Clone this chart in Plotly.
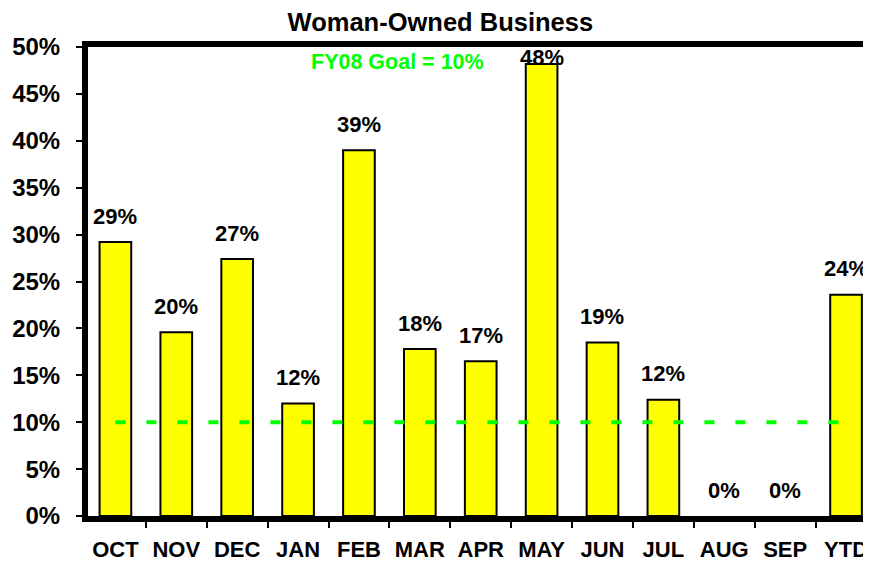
import plotly.graph_objects as go

# monthly share of awards to woman-owned businesses (%)
months = ['OCT', 'NOV', 'DEC', 'JAN', 'FEB', 'MAR', 'APR', 'MAY', 'JUN', 'JUL', 'AUG', 'SEP', 'YTD']
values = [29.2, 19.6, 27.4, 12.0, 39.0, 17.8, 16.5, 48.2, 18.5, 12.4, 0.0, 0.0, 23.6]
labels = ['29%', '20%', '27%', '12%', '39%', '18%', '17%', '48%', '19%', '12%', '0%', '0%', '24%']
goal = [10] * len(months)
y_ticks = list(range(0, 51, 5))

FONT = 'Liberation Sans, Arial, sans-serif'

fig = go.Figure()

# empty (0%) bars get no outline so nothing shows above the axis
fig.add_trace(go.Bar(
    x=months, y=values,
    marker=dict(color='#FFFF00',
                line=dict(color='black', width=[2 if v > 0 else 0 for v in values])),
    hoverinfo='x+y', showlegend=False,
))

# goal line drawn over the bars, like the Excel line series
fig.add_trace(go.Scatter(
    x=months, y=goal, mode='lines',
    line=dict(color='#00FF00', width=4, dash='10px,21px'),
    hoverinfo='skip', showlegend=False,
))

# value labels above bars, kept inside the plot top like Excel does
annots = []
for m, v, t in zip(months, values, labels):
    annots.append(dict(
        x=m, y=min(v + 2.75, 48.85), text=t, showarrow=False,
        xanchor='center', yanchor='middle',
        font=dict(family=FONT, size=22, color='black', weight=700),
    ))

annots.append(dict(
    xref='paper', yref='paper', x=0.395, y=0.968, text='FY08 Goal = 10%',
    showarrow=False, xanchor='center', yanchor='middle',
    font=dict(family=FONT, size=21.5, color='#00FF00', weight=700),
))

# page body has an 8px margin, so the figure is 8px smaller than the window
fig.update_layout(
    width=863, height=557,
    margin=dict(l=80, r=0, t=39, b=49, autoexpand=False),
    paper_bgcolor='white', plot_bgcolor='white',
    bargap=0.48,
    title=dict(text='Woman-Owned Business', x=0.501, xref='container',
               y=1 - 14 / 557, yanchor='middle', yref='container',
               font=dict(family=FONT, size=25.5, color='black', weight=700)),
    annotations=annots,
    xaxis=dict(
        type='category', range=[-0.45, 12.41], automargin=False,
        showline=True, linecolor='black', linewidth=6, mirror=True,
        ticks='outside', tickson='boundaries', ticklen=6, tickwidth=2, tickcolor='black',
        ticklabelstandoff=9,
        showgrid=False, zeroline=False,
        tickfont=dict(family=FONT, size=22, color='black', weight=700),
    ),
    yaxis=dict(
        range=[0, 50], tickvals=y_ticks, ticktext=[f'{v}%' for v in y_ticks],
        automargin=False,
        showline=True, linecolor='black', linewidth=6,
        ticks='outside', ticklen=6, tickwidth=2, tickcolor='black',
        ticklabelstandoff=11,
        showgrid=False, zeroline=False,
        tickfont=dict(family=FONT, size=24, color='black', weight=700),
    ),
)

fig.write_html('out.html')
